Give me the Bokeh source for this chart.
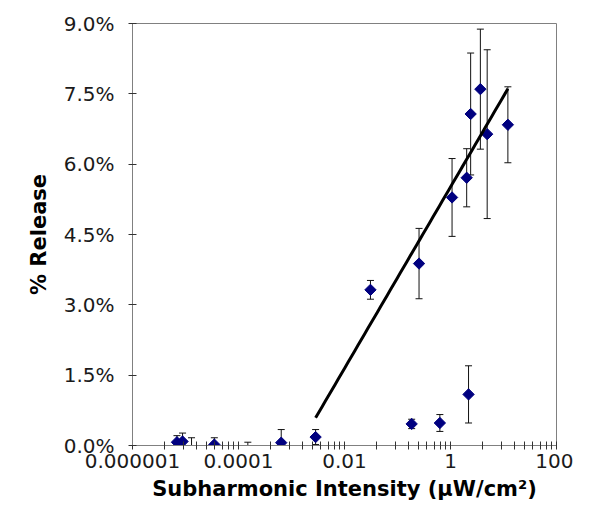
import numpy as np
from bokeh.plotting import figure
from bokeh.models import (ColumnDataSource, Whisker, TeeHead, FixedTicker,
                          NumeralTickFormatter, CustomJSTickFormatter, Range1d)
from bokeh.embed import file_html
from bokeh.resources import INLINE

# ---- data (release as fraction) ----
# series used for the logarithmic trendline
fit_x = [0.00285, 0.0309, 0.255, 1.07, 2.02, 2.40, 3.66, 4.92, 12.1]
fit_y = [0.0018, 0.0332, 0.0388, 0.0529, 0.0571, 0.0707, 0.0760, 0.0664, 0.0684]
fit_err = [0.0016, 0.0020, 0.0075, 0.0083, 0.0062, 0.0130, 0.0128, 0.0180, 0.0081]

# other measured points
low_x = [6.9e-6, 8.8e-6, 3.5e-5, 6.4e-4, 0.185, 0.63, 2.19]
low_y = [0.0007, 0.00085, 0.0002, 0.0006, 0.0046, 0.0048, 0.0109]
low_err = [0.0014, 0.0018, 0.00145, 0.0028, 0.0010, 0.0018, 0.0061]

# error bars whose markers are not visible
bar_only_x = [1.3e-5, 1.5e-4]
bar_only_y = [0.0005, 0.0]
bar_only_err = [0.00115, 0.0007]

x_ticks = [1e-6, 1e-4, 1e-2, 1.0, 100.0]
x_tick_labels = ["0.000001", "0.0001", "0.01", "1", "100"]
y_ticks = [0.0, 0.015, 0.03, 0.045, 0.06, 0.075, 0.09]

FONT = "DejaVu Sans"
NAVY = "#000080"

p = figure(width=573, height=510, x_axis_type="log",
           x_range=Range1d(1e-6, 100), y_range=Range1d(0, 0.09),
           output_backend="svg", toolbar_location=None,
           min_border_left=132, min_border_right=17,
           min_border_top=23, min_border_bottom=65)
p.xgrid.visible = False
p.ygrid.visible = False
p.outline_line_color = "#808080"
p.outline_line_width = 1
p.background_fill_color = "white"
p.border_fill_color = "white"

# minor ticks: Excel-style on a base-100 log axis
minor = []
for t in x_ticks[:-1]:
    for n in range(2, 10):
        minor.append(t * n * n)

xa = p.xaxis[0]
xa.ticker = FixedTicker(ticks=x_ticks, minor_ticks=minor)
xa.formatter = CustomJSTickFormatter(args=dict(tv=x_ticks, labels=x_tick_labels), code="""
for (let i = 0; i < tv.length; i++) {
  if (Math.abs(Math.log10(tv[i]) - Math.log10(tick)) < 1e-6) return labels[i];
}
return "";
""")
xa.axis_label = "Subharmonic Intensity (\u03bcW/cm\u00b2)"

ya = p.yaxis[0]
ya.ticker = FixedTicker(ticks=y_ticks, minor_ticks=[])
ya.formatter = NumeralTickFormatter(format="0.0%")
ya.axis_label = "% Release"

for ax in (xa, ya):
    ax.axis_line_color = "#808080"
    ax.axis_line_width = 1
    ax.major_tick_line_color = "#333333"
    ax.minor_tick_line_color = "#333333"
    ax.major_tick_in = 4
    ax.major_tick_out = 4
    ax.minor_tick_in = 4
    ax.minor_tick_out = 4
    ax.major_label_text_font = FONT
    ax.major_label_text_font_size = "20px"
    ax.major_label_text_color = "#1a1a1a"
    ax.axis_label_text_font = FONT
    ax.axis_label_text_font_size = "21px"
    ax.axis_label_text_font_style = "bold"
    ax.axis_label_text_color = "#000000"

ya.minor_tick_in = 0
ya.minor_tick_out = 0
ya.major_label_standoff = 14
ya.axis_label_standoff = 10
xa.major_label_standoff = 4
xa.axis_label_standoff = 6

# ---- error bars ----
def add_bars(xs, ys, errs):
    src = ColumnDataSource(dict(
        x=xs,
        upper=[y + e for y, e in zip(ys, errs)],
        lower=[y - e for y, e in zip(ys, errs)]))
    w = Whisker(source=src, base="x", upper="upper", lower="lower",
                dimension="height", line_color="#111111", line_width=1,
                upper_head=TeeHead(size=7, line_color="#111111", line_width=1),
                lower_head=TeeHead(size=7, line_color="#111111", line_width=1))
    p.add_layout(w)

add_bars(fit_x, fit_y, fit_err)
add_bars(low_x, low_y, low_err)
add_bars(bar_only_x, bar_only_y, bar_only_err)

# ---- markers ----
p.scatter(fit_x, fit_y, marker="square", angle=np.pi / 4, size=8,
          fill_color=NAVY, line_color=NAVY)
p.scatter(low_x, low_y, marker="square", angle=np.pi / 4, size=8,
          fill_color=NAVY, line_color=NAVY)

# ---- logarithmic trendline fitted to the upper series ----
slope, intercept = np.polyfit(np.log10(fit_x), fit_y, 1)
tx = np.logspace(np.log10(min(fit_x)), np.log10(max(fit_x)), 60)
ty = slope * np.log10(tx) + intercept
p.line(tx, ty, line_color="black", line_width=3)

open("out.html", "w").write(file_html(p, INLINE))
